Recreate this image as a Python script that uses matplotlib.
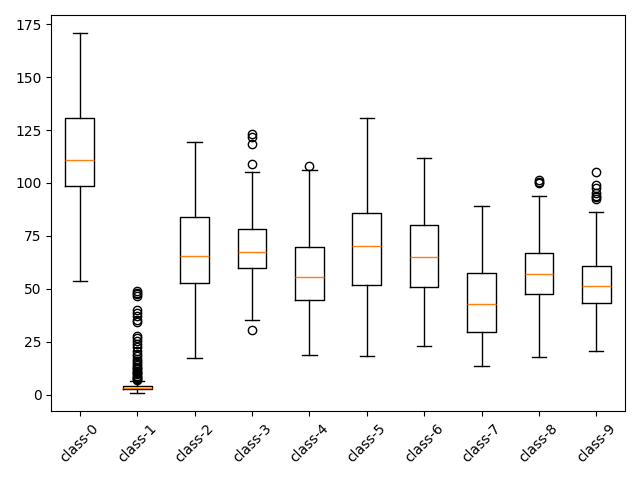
import matplotlib
matplotlib.use('Agg')
import matplotlib.pyplot as plt

labels = ['class-%d' % i for i in range(10)]
whislo = [53.8, 0.7, 17.2, 35.4, 18.9, 18.4, 23.1, 13.7, 17.9, 20.8]
q1 = [98.6, 2.6, 52.8, 60.0, 44.8, 51.9, 50.9, 29.7, 47.6, 43.4]
med = [110.8, 3.1, 65.6, 67.3, 55.7, 70.3, 65.1, 42.9, 57.0, 51.4]
q3 = [130.7, 4.2, 84.0, 78.3, 69.8, 85.8, 80.2, 57.5, 67.0, 60.8]
whishi = [170.8, 6.3, 119.3, 105.0, 106.0, 130.7, 111.8, 89.2, 93.9, 86.3]
fliers = [
    [],
    [49, 48.2, 47.4, 46.6, 40, 38.6, 37.2, 35.2, 34.2, 28, 27, 25.6, 24,
     22.4, 20.6, 19.4, 18.2, 17, 16, 15, 14, 13.2, 12.6, 12, 11.4, 10.8,
     10.2, 9.6, 9, 8.5, 8, 7.6, 7.2],
    [],
    [123, 121.5, 118.4, 108.8, 30.7],
    [108],
    [],
    [],
    [],
    [101.5, 100.6, 99.8],
    [105.3, 99.2, 97.4, 95.2, 94, 93.2, 92.6],
]

stats = []
for i in range(10):
    stats.append({'label': labels[i], 'whislo': whislo[i], 'q1': q1[i],
                  'med': med[i], 'q3': q3[i], 'whishi': whishi[i],
                  'fliers': fliers[i]})

fig, ax = plt.subplots(figsize=(6.4, 4.8), dpi=100)
ax.bxp(stats)
plt.xticks(rotation=45)
plt.tight_layout()
plt.savefig('out.png')
